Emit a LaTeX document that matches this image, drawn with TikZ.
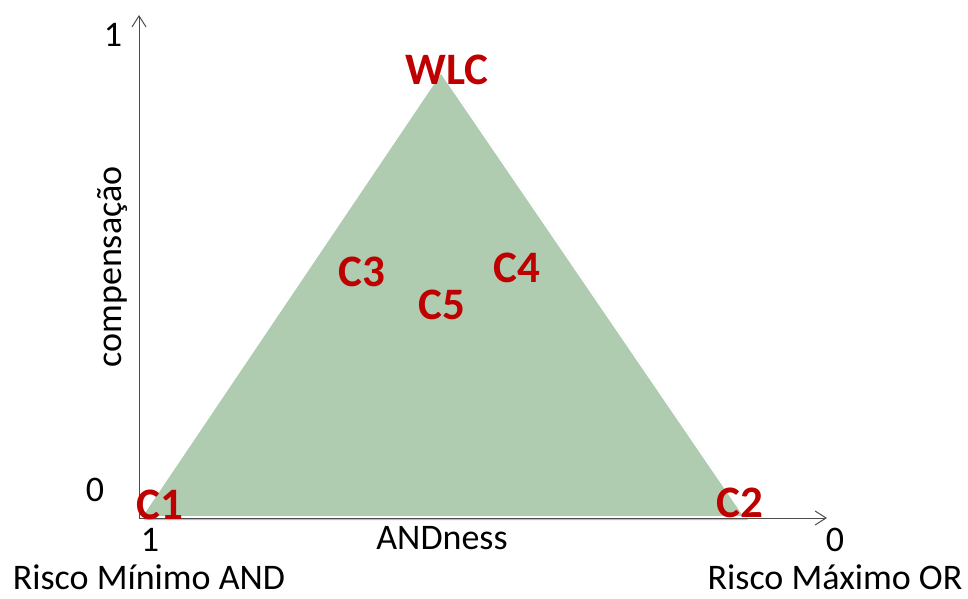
\documentclass[tikz,border=0pt]{standalone}
\usepackage{fontspec}
\setmainfont{Carlito}
\usepackage{tikz}
\usetikzlibrary{positioning, arrows.meta, calc}

\definecolor{trifill}{RGB}{175,204,177}
\definecolor{lblred}{RGB}{190,0,0}

\begin{document}
\begin{tikzpicture}[x=1pt, y=1pt,
    axis/.style={draw=black!70, line width=1pt, -{Straight Barb[length=11pt, width=14pt, line width=1pt]}},
    corner/.style={font=\fontsize{45}{45}\selectfont\bfseries, text=lblred, inner sep=0pt},
    plain/.style={font=\fontsize{36}{36}\selectfont, inner sep=0pt}]
        \useasboundingbox (0,0) rectangle (968,598);

        % Draw the triangle
        \coordinate (c1pt) at (141,81);
        \coordinate (wlcpt) at (441,526);
        \coordinate (c2pt) at (745,81);
        \fill[black!25] ($(c1pt)+(3,-3)$) -- ($(wlcpt)+(3,-3)$) -- ($(c2pt)+(3,-3)$) -- cycle;
        \filldraw[fill=trifill, draw=white, line width=2pt, line join=round] (c1pt) -- (wlcpt) -- (c2pt) -- cycle;

        % Draw the axes
        \coordinate (orig) at (139,80);
        \coordinate (ytop) at (139,583);
        \coordinate (xend) at (827,80);
        \draw[axis] (orig) -- (ytop);
        \draw[axis] (orig) -- (xend);

        % Axis labels
        \node[plain] (yone) at (113,563) {1};
        \node[plain] (yzero) at (95,108) {0};
        \node[plain] (xone) at (150,58) {1};
        \node[plain] (xzero) at (835,58) {0};
        \node[plain] (andness) at (442,60) {ANDness};
        \node[plain, rotate=90] (comp) at (112,331) {compensação};
        \node[plain] (riscomin) at (149,21) {Risco Mínimo AND};
        \node[plain] (riscomax) at (835,21) {Risco Máximo OR};

        % Points
        \node[corner] (wlc) at (447,528) {WLC};
        \node[corner] (cone) at (160,93) {C1};
        \node[corner] (ctwo) at (740,95) {C2};
        \node[corner] (cthree) at (362,326) {C3};
        \node[corner] (cfour) at (517,330) {C4};
        \node[corner] (cfive) at (442,293) {C5};
    \end{tikzpicture}
\end{document}
